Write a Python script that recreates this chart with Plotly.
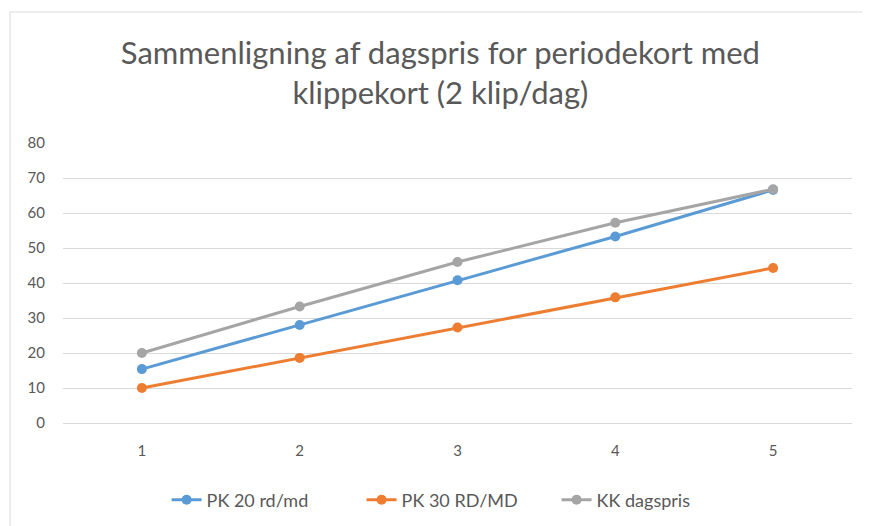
import plotly.graph_objects as go

categories = ["1", "2", "3", "4", "5"]
pk20 = [15.4, 28.0, 40.8, 53.3, 66.6]
pk30 = [10.0, 18.6, 27.3, 35.9, 44.3]
kk = [20.0, 33.3, 46.0, 57.2, 66.8]
series_names = ["PK 20 rd/md", "PK 30 RD/MD", "KK dagspris"]
colors = ["#5B9BD5", "#ED7D31", "#A5A5A5"]
y_ticks = [0, 10, 20, 30, 40, 50, 60, 70, 80]

fig = go.Figure()
for name, vals, col in zip(series_names, [pk20, pk30, kk], colors):
    fig.add_trace(go.Scatter(
        x=categories, y=vals, name=name, mode="lines+markers",
        line=dict(color=col, width=3),
        marker=dict(color=col, size=10, symbol="circle"),
    ))

font_fam = "Lato, Open Sans, Arial, sans-serif"
L, T, PW, PH = 55, 135, 789, 280
fig.update_layout(
    width=870, height=526,
    paper_bgcolor="white", plot_bgcolor="white",
    margin=dict(l=L, r=870 - L - PW, t=T, b=526 - T - PH),
    title=dict(
        text="Sammenligning af dagspris for periodekort med<br>klippekort (2 klip/dag)",
        x=0.497, xanchor="center", y=1 - 56 / 526, yanchor="middle",
        font=dict(family=font_fam, size=31, color="#595959"),
    ),
    showlegend=True,
    legend=dict(orientation="h", x=0.502, xanchor="center", y=-0.275, yanchor="middle",
                entrywidth=150, entrywidthmode="pixels",
                font=dict(family=font_fam, size=18, color="#595959")),
    xaxis=dict(type="category", range=[-0.5, 4.5], showgrid=False, showline=False,
               zeroline=False, ticks="", ticklabelstandoff=17,
               tickfont=dict(family=font_fam, size=15, color="#595959")),
    yaxis=dict(range=[0, 80], tickvals=y_ticks, showgrid=True, gridcolor="#D9D9D9",
               gridwidth=1, zeroline=True, zerolinecolor="#D9D9D9", zerolinewidth=1,
               showline=False, ticks="", ticklabelstandoff=17,
               tickfont=dict(family=font_fam, size=15, color="#595959")),
    shapes=[dict(type="rect", xref="paper", yref="paper",
                 x0=(2 - L) / PW, x1=(900 - L) / PW,
                 y0=(T + PH - 560) / PH, y1=(T + PH - 4) / PH,
                 line=dict(color="#D9D9D9", width=1), layer="below")],
)

fig.write_html("out.html")
